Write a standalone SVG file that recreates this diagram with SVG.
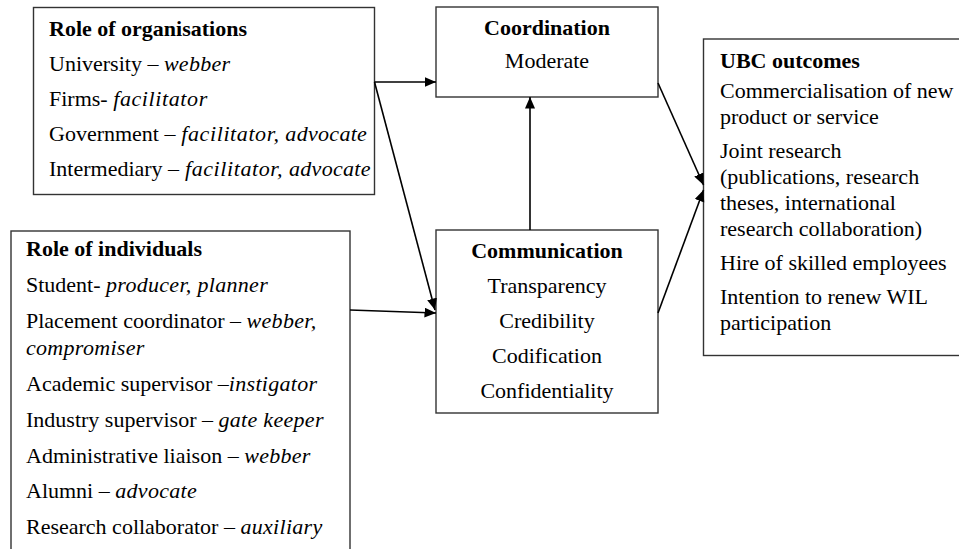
<svg xmlns="http://www.w3.org/2000/svg" width="959" height="549" viewBox="0 0 959 549" font-family="'Liberation Serif', 'Times New Roman', serif">
<style>
  .box { fill: #ffffff; stroke: #333333; stroke-width: 1.4; }
  text { font-family: "Liberation Serif", "Times New Roman", serif; font-size: 22px; fill: #000000; }
  .b { font-weight: bold; }
  .i { font-style: italic; letter-spacing: 0.3px; }
  .f { letter-spacing: 0.6px; }
  .c { text-anchor: middle; }
  .conn line { stroke: #000000; stroke-width: 1.6; marker-end: url(#arrow); }
</style>
<defs>
  <marker id="arrow" markerUnits="userSpaceOnUse" markerWidth="12" markerHeight="11" refX="11.5" refY="5" orient="auto">
    <path d="M0,0 L11.5,5 L0,10 z" fill="#000000"/>
  </marker>
</defs>
<rect width="959" height="549" fill="#ffffff"/>

<g id="role-organisations">
  <rect class="box" x="33.5" y="7.5" width="341" height="187"/>
  <text class="b" x="49" y="36">Role of organisations</text>
  <text x="49" y="71">University – <tspan class="i">webber</tspan></text>
  <text x="49" y="106">Firms- <tspan class="i f">facilitator</tspan></text>
  <text x="49" y="141">Government –<tspan class="i"> <tspan class="f">facilitator,</tspan> advocate</tspan></text>
  <text x="49" y="176">Intermediary –<tspan class="i"> <tspan class="f">facilitator,</tspan> advocate</tspan></text>
</g>

<g id="role-individuals">
  <rect class="box" x="11" y="231" width="339" height="330"/>
  <text class="b" x="26" y="256">Role of individuals</text>
  <text x="26" y="291.5">Student- <tspan class="i">producer, planner</tspan></text>
  <text x="26" y="327.5">Placement coordinator – <tspan class="i">webber,</tspan></text>
  <text class="i" x="26" y="354.5">compromiser</text>
  <text x="26" y="391">Academic supervisor –<tspan class="i">instigator</tspan></text>
  <text x="26" y="427">Industry supervisor – <tspan class="i">gate keeper</tspan></text>
  <text x="26" y="462.5">Administrative liaison – <tspan class="i">webber</tspan></text>
  <text x="26" y="498">Alumni – <tspan class="i">advocate</tspan></text>
  <text x="26" y="534">Research collaborator – <tspan class="i">auxiliary</tspan></text>
</g>

<g id="coordination">
  <rect class="box" x="436" y="7" width="222" height="90"/>
  <text class="b c" x="547" y="35">Coordination</text>
  <text class="c" x="547" y="68">Moderate</text>
</g>

<g id="communication">
  <rect class="box" x="436" y="230" width="222" height="183"/>
  <text class="b c" x="547" y="258">Communication</text>
  <text class="c" x="547" y="293">Transparency</text>
  <text class="c" x="547" y="328">Credibility</text>
  <text class="c" x="547" y="363">Codification</text>
  <text class="c" x="547" y="398">Confidentiality</text>
</g>

<g id="ubc-outcomes">
  <rect class="box" x="703.5" y="39" width="270" height="316.5"/>
  <text class="b" x="720" y="68">UBC outcomes</text>
  <text x="720" y="98">Commercialisation of new</text>
  <text x="720" y="124">product or service</text>
  <text x="720" y="158">Joint research</text>
  <text x="720" y="184">(publications, research</text>
  <text x="720" y="210">theses, international</text>
  <text x="720" y="236">research collaboration)</text>
  <text x="720" y="270">Hire of skilled employees</text>
  <text x="720" y="304">Intention to renew WIL</text>
  <text x="720" y="330">participation</text>
</g>

<g id="connectors" class="conn">
  <line x1="374.5" y1="82" x2="436" y2="82"/>
  <line x1="374.5" y1="82" x2="435" y2="310"/>
  <line x1="350" y1="310" x2="436" y2="313"/>
  <line x1="530" y1="230" x2="530" y2="97"/>
  <line x1="658" y1="83" x2="703.5" y2="185"/>
  <line x1="658" y1="313" x2="703.5" y2="190"/>
</g>
</svg>
